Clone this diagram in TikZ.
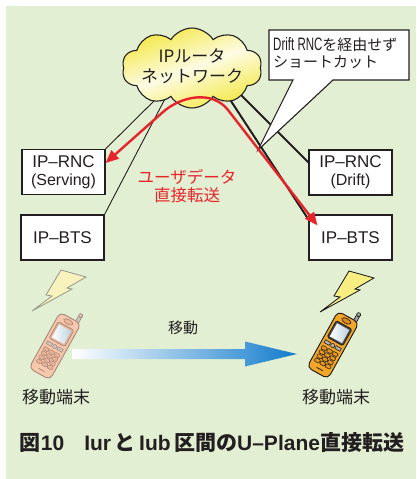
\documentclass[tikz,border=0pt]{standalone}
\usepackage{fontspec}
\setmainfont{Liberation Sans}
\newfontfamily\jp{Noto Sans CJK JP}
\newfontfamily\calloutlat[FakeStretch=0.64]{Liberation Sans}
\usetikzlibrary{shapes.symbols,arrows.meta,calc}

\definecolor{bggreen}{RGB}{227,239,211}
\definecolor{cloudyel}{RGB}{243,232,70}
\definecolor{redline}{RGB}{232,36,43}
\definecolor{arrowblue}{RGB}{18,124,204}
\definecolor{txt}{RGB}{35,31,32}

\tikzset{
  box/.style={draw=txt, line width=1.1pt, fill=white, minimum width=83pt,
    minimum height=45pt, inner sep=0pt, align=center, text=txt,
    font=\fontsize{17}{18}\selectfont},
  thinlink/.style={draw=txt, line width=0.9pt},
  thicklink/.style={draw=txt, line width=2pt},
  userdata/.style={draw=redline, line width=2.4pt,
    {Triangle[length=13pt,width=11pt]}-{Triangle[length=13pt,width=11pt]}},
  lbl/.style={text=txt, inner sep=0pt, font=\jp\fontsize{17}{20}\selectfont},
  handset/.pic={
    % antenna stub
    \filldraw[fill=pant, draw=pline, line width=0.6pt] (6,-30) rectangle (9.5,-38);
    \filldraw[fill=pant, draw=pline, line width=0.6pt] (7.75,-39) circle (2);
    % body
    \filldraw[fill=pbody, draw=pline, line width=0.9pt, rounded corners=5pt]
      (-12,-32) -- (12,-32) -- (12,32) -- (-12,32) -- cycle;
    % earpiece
    \filldraw[fill=pear, draw=pline, line width=0.6pt] (0,-27.5) ellipse (5 and 2.4);
    % display
    \filldraw[fill=pframe, draw=pline, line width=0.6pt, rounded corners=1.5pt]
      (-9,-23) rectangle (9,-4);
    \shade[left color=white, right color=pscreen] (-7,-21) rectangle (7,-6);
    % function keys
    \filldraw[fill=pkeyb, draw=pline, line width=0.5pt] (-9,-1) rectangle (-3.2,2.2);
    \filldraw[fill=pkeyb, draw=pline, line width=0.5pt] (3.2,-1) rectangle (9,2.2);
    \filldraw[fill=pkeyb, draw=pline, line width=0.5pt] (0,0.6) circle (2.1);
    % keypad
    \foreach \cx in {-6.2,0,6.2} {
      \foreach \cy in {7,11.7,16.4,21.1} {
        \filldraw[fill=pkey, draw=pline, line width=0.5pt, rounded corners=0.8pt]
          ({\cx-2.7},{\cy-1.8}) rectangle ({\cx+2.7},{\cy+1.8});
      }
    }
    % microphone slot
    \draw[pline, line width=0.7pt] (-3.5,27.5) -- (3.5,27.5);
  },
  bolt/.pic={
    \filldraw[fill=boltfill, draw=boltline, line width=0.8pt, line join=miter]
      (0,0) -- (25,7) -- (6,18) -- (11,19) -- (-29,41) -- (-9,26) -- (-15,25) -- cycle;
  }
}

\begin{document}
\begin{tikzpicture}[x=1pt,y=-1pt]
\useasboundingbox (0,0) rectangle (416,479);
\fill[white] (0,0) rectangle (416,479);
\fill[bggreen] (6,6) rectangle (416,479);

% equipment boxes
\node[box] (rncS) at (63.5,172) {IP–RNC\\{\fontsize{16}{18}\selectfont (Serving)}};
\node[box] (btsL) at (62.5,237.5) {IP–BTS};
\node[box] (rncD) at (350.5,172.5) {IP–RNC\\{\fontsize{16}{18}\selectfont (Drift)}};
\node[box] (btsR) at (350.5,237.5) {IP–BTS};

% links from the router network
\coordinate (c1) at (160,95);
\coordinate (c2) at (167,95);
\coordinate (c3) at (220.5,85);
\coordinate (c4) at (231,85);
\draw[thinlink] (c1) -- (rncS.north east);
\draw[thinlink] (c2) -- (btsL.north east);
\draw[thicklink] (c3) -- ([yshift=-5pt]btsR.north west);
\draw[thicklink] (c4) -- ([yshift=10pt]rncD.west);

% IP router network
\node[cloud, cloud puffs=10, cloud puff arc=115, aspect=1.75,
  minimum width=140pt, minimum height=80pt, inner sep=0pt,
  draw=txt, line width=1.1pt,
  top color=cloudyel, bottom color=cloudyel, middle color=white!85!cloudyel,
  shading angle=20] (router) at (192,68) {};
\node[lbl, align=center] (routertxt) at (192,66) {IPルータ\\ネットワーク};

% callout
\filldraw[fill=white, draw=txt, line width=1.1pt, line join=miter]
  (269,30) -- (409,30) -- (409,80) -- (333,80) -- (258,150) -- (293,80) -- (269,80) -- cycle;
\node[anchor=west, align=left, text=txt, inner sep=0pt,
  font=\fontsize{16}{16.5}\selectfont] (note) at (273,53)
  {{\calloutlat\fontsize{18}{16.5}\selectfont Drift RNC}{\jp\fontsize{15}{16.5}\selectfont を経由せず}\\%
   {\jp\fontsize{15}{16.5}\selectfont ショートカット}};

% user data path
\coordinate (r1) at (163,112);
\coordinate (r1c) at (181.8,95.5);
\coordinate (r2c) at (212.7,90.3);
\coordinate (r2) at (228,110);
\draw[userdata] ([yshift=9pt]rncS.east) -- (r1) .. controls (r1c) and (r2c) .. (r2)
  -- ([xshift=9pt,yshift=-11pt]btsR.north west);
\node[lbl, text=redline, align=center, font=\jp\fontsize{16.5}{18}\selectfont]
  (udtxt) at (187,186) {ユーザデータ\\直接転送};

% radio links
\definecolor{boltfill}{RGB}{248,243,188}
\definecolor{boltline}{RGB}{150,150,140}
\pic (boltL) at (61,270) {bolt};
\definecolor{boltfill}{RGB}{247,238,130}
\definecolor{boltline}{RGB}{20,20,20}
\pic (boltR) at (349,271) {bolt};

% handsets
\begin{scope}
  \definecolor{pbody}{RGB}{247,200,172}
  \definecolor{pline}{RGB}{165,135,120}
  \definecolor{pkey}{RGB}{236,178,148}
  \definecolor{pkeyb}{RGB}{205,195,190}
  \definecolor{pframe}{RGB}{225,175,145}
  \definecolor{pscreen}{RGB}{190,212,226}
  \definecolor{pear}{RGB}{238,182,152}
  \definecolor{pant}{RGB}{205,195,190}
  \pic[rotate=-29] (phoneL) at (55,346) {handset};
\end{scope}
\begin{scope}
  \definecolor{pbody}{RGB}{242,166,40}
  \definecolor{pline}{RGB}{20,20,20}
  \definecolor{pkey}{RGB}{232,150,32}
  \definecolor{pkeyb}{RGB}{175,175,175}
  \definecolor{pframe}{RGB}{70,70,70}
  \definecolor{pscreen}{RGB}{190,208,222}
  \definecolor{pear}{RGB}{225,140,30}
  \definecolor{pant}{RGB}{160,160,160}
  \pic[rotate=-29] (phoneR) at (333,345) {handset};
\end{scope}

% movement arrow
\coordinate (mvA) at (72,354);
\coordinate (mvB) at (297,354);
\shade[left color=white, right color=arrowblue]
  ($(mvA)+(0,-5)$) -- ($(mvB)+(-52,-5)$) -- ($(mvB)+(-52,-12.5)$) -- (mvB)
  -- ($(mvB)+(-52,12.5)$) -- ($(mvB)+(-52,5)$) -- ($(mvA)+(0,5)$) -- cycle;
\node[lbl, font=\jp\fontsize{15}{18}\selectfont] (move) at (183,328) {移動};

\node[lbl] (termL) at (56,397) {移動端末};
\node[lbl] (termR) at (336,397) {移動端末};

% caption
\node[text=txt, inner sep=0pt, font=\bfseries\fontsize{21}{23}\selectfont] (caption) at (212,443)
  {{\jp 図}10\hspace{20pt}Iur\,{\jp と}\,Iub\,{\jp 区間の}U–Plane{\jp 直接転送}};
\end{tikzpicture}
\end{document}
